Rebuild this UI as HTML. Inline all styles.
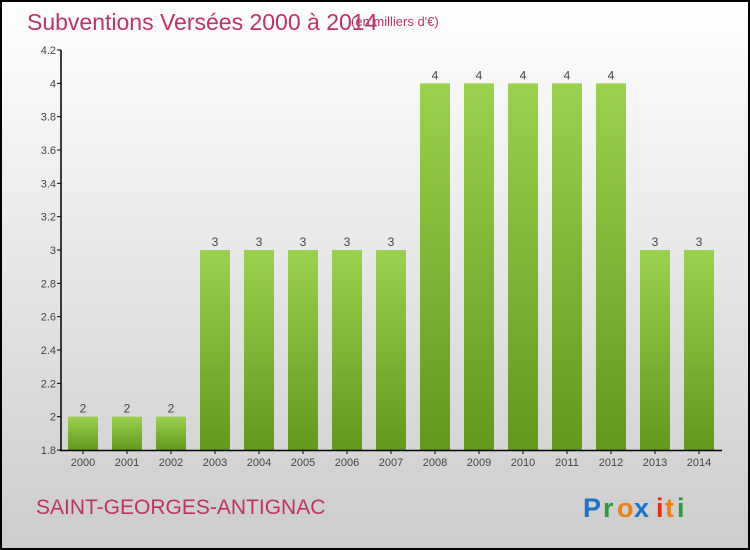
<!DOCTYPE html>
<html><head><meta charset="utf-8"><style>
body{margin:0;width:750px;height:550px;overflow:hidden}
svg{display:block}
text{font-family:"Liberation Sans",sans-serif}
</style></head><body>
<svg width="750" height="550" xmlns="http://www.w3.org/2000/svg">
<defs>
<linearGradient id="bg" x1="0" y1="0" x2="0" y2="1"><stop offset="0" stop-color="#ffffff"/><stop offset="1" stop-color="#cccccc"/></linearGradient>
<linearGradient id="bar" x1="0" y1="0" x2="0" y2="1"><stop offset="0" stop-color="#9ad14e"/><stop offset="1" stop-color="#62991a"/></linearGradient>
</defs>
<rect x="1" y="1" width="748" height="548" fill="url(#bg)" stroke="#000" stroke-width="2"/>
<text x="27" y="30" font-size="23" fill="#c0335f">Subventions Versées 2000 à 2014</text>
<text x="351" y="26" font-size="13" fill="#c0335f">(en milliers d'€)</text>
<g id="plot"></g>
<text x="36" y="514" font-size="21" fill="#c0335f">SAINT-GEORGES-ANTIGNAC</text>
<g font-size="27" font-weight="bold" font-family="Liberation Sans">
<text x="583" y="517" fill="#1a74c8">P</text><text x="603" y="517" fill="#2a9a3a">r</text><text x="617" y="517" fill="#f08010">o</text><text x="634" y="517" fill="#1a74c8">x</text><text x="656" y="517" fill="#e03010">i</text><text x="665" y="517" fill="#f08010">t</text><text x="677" y="517" fill="#2a9a3a">i</text>
</g>
</svg>
<script>
const years=["2000","2001","2002","2003","2004","2005","2006","2007","2008","2009","2010","2011","2012","2013","2014"];
const values=[2,2,2,3,3,3,3,3,4,4,4,4,4,3,3];
const ticks=[1.8,2,2.2,2.4,2.6,2.8,3,3.2,3.4,3.6,3.8,4,4.2];
const NS="http://www.w3.org/2000/svg";
const g=document.getElementById('plot');
const y0=450,y1=50,vmin=1.8,vmax=4.2;
function y(v){return y0-(v-vmin)/(vmax-vmin)*(y0-y1);}
function x(i){return 83+i*44;}
function mk(t,a,p){const e=document.createElementNS(NS,t);for(const k in a)e.setAttribute(k,a[k]);(p||g).appendChild(e);return e;}
ticks.forEach(t=>{
 const l=mk('line',{x1:57,x2:61,y1:y(t),y2:y(t),stroke:'#000'});
 
 
 const tx=mk('text',{x:56,y:y(t)+4,'text-anchor':'end','font-size':11,fill:'#444'});
 tx.textContent=String(t);
 
 
});
values.forEach((v,i)=>{
 const r=mk('rect',{x:x(i)-15,y:y(v),width:30,height:y0-y(v),fill:'url(#bar)'});
 
 
 const lb=mk('text',{x:x(i),y:y(v)-4,'text-anchor':'middle','font-size':12,fill:'#444'});
 lb.textContent=String(v);
 
 
 const tk=mk('line',{x1:x(i),x2:x(i),y1:450,y2:454,stroke:'#000'});
 
 
 const xl=mk('text',{x:x(i),y:466,'text-anchor':'middle','font-size':11,fill:'#444'});
 xl.textContent=years[i];
 
 
});
const ya=mk('line',{x1:61,x2:61,y1:50,y2:451,stroke:'#000','stroke-width':1.5});


const xa=mk('line',{x1:60,x2:722,y1:450.5,y2:450.5,stroke:'#000','stroke-width':1.5});


</script>
</body></html>
